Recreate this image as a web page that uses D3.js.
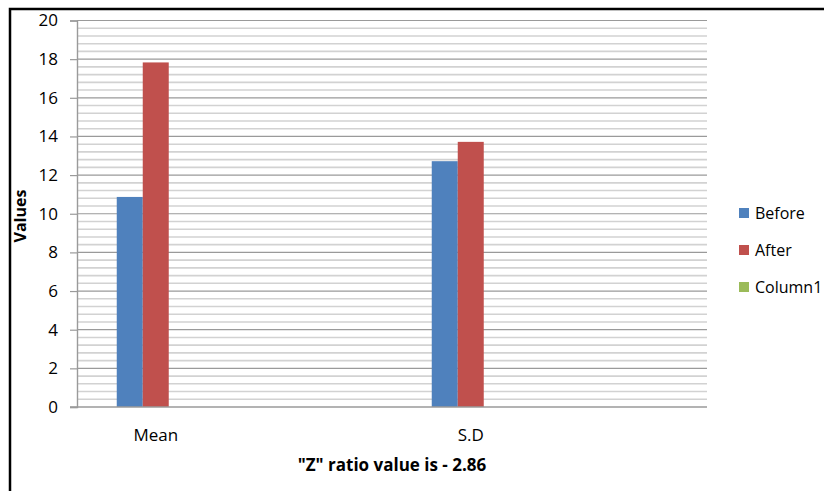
<!DOCTYPE html>
<html>
<head>
<meta charset="utf-8">
<script src="https://cdn.jsdelivr.net/npm/d3@7"></script>
<style>
  html, body { margin: 0; padding: 0; background: #fff; }
  svg { display: block; }
  text { font-family: "Open Sans", Lato, sans-serif; fill: #000; }
</style>
</head>
<body>
<svg id="chart" width="824" height="491"></svg>
<script>
// ---- data ----
const categories = ["Mean", "S.D"];
const seriesNames = ["Before", "After", "Column1"];
const beforeValues = [10.87, 12.72];
const afterValues = [17.83, 13.72];
const column1Values = [null, null];
const yTicks = [0, 2, 4, 6, 8, 10, 12, 14, 16, 18, 20];
const yAxisTitle = "Values";
const xAxisTitle = "\"Z\" ratio value is - 2.86";
const colors = ["#4F81BD", "#C0504D", "#9BBB59"];

const seriesValues = [beforeValues, afterValues, column1Values];
const FONT = "'Open Sans', Lato, sans-serif";

const svg = d3.select("#chart");

// outer frame
svg.append("rect")
  .attr("x", 10).attr("y", 9).attr("width", 1000).attr("height", 1000)
  .attr("fill", "none").attr("stroke", "#000").attr("stroke-width", 2.5);

const plot = { left: 77, right: 707, top: 20.5, bottom: 407 };

const y = d3.scaleLinear().domain([0, 20]).range([plot.bottom, plot.top]);
const x = d3.scalePoint().domain(categories).range([plot.left, plot.right]).padding(0.5).align(0.25);
const barW = 26;
const xs = d3.scaleBand().domain(seriesNames).range([-1.5 * barW, 1.5 * barW]);

// minor gridlines
const minorTicks = d3.range(0, 20.0001, 0.4).filter(v => Math.abs(v / 2 - Math.round(v / 2)) > 1e-6);
svg.append("g").selectAll("line").data(minorTicks).join("line")
  .attr("x1", plot.left).attr("x2", plot.right)
  .attr("y1", d => y(d)).attr("y2", d => y(d))
  .attr("stroke", "#d2d2d2").attr("stroke-width", 1.6);

// major gridlines
svg.append("g").selectAll("line").data(yTicks.filter(d => d > 0)).join("line")
  .attr("x1", plot.left).attr("x2", plot.right)
  .attr("y1", d => y(d)).attr("y2", d => y(d))
  .attr("stroke", "#9a9a9a").attr("stroke-width", 1.2);

// y axis
const yAxis = svg.append("g")
  .attr("transform", `translate(${plot.left},0)`)
  .call(d3.axisLeft(y).tickValues(yTicks).tickSize(7).tickPadding(12).tickFormat(d3.format("d")));
yAxis.select(".domain").attr("stroke", "#9a9a9a").attr("stroke-width", 1.4);
yAxis.selectAll(".tick line").attr("stroke", "#9a9a9a").attr("stroke-width", 1.2);
yAxis.selectAll(".tick text").attr("font-size", 17).attr("font-family", FONT).attr("fill", "#000");

// bars
seriesNames.forEach((s, si) => {
  svg.append("g").selectAll("rect")
    .data(categories.map((c, ci) => ({ c, v: seriesValues[si][ci] })).filter(d => d.v != null))
    .join("rect")
    .attr("x", d => x(d.c) + xs(s))
    .attr("width", xs.bandwidth())
    .attr("y", d => y(d.v))
    .attr("height", d => y(0) - y(d.v))
    .attr("fill", colors[si]);
});

// x axis line
svg.append("line")
  .attr("x1", plot.left - 7).attr("x2", plot.right)
  .attr("y1", y(0)).attr("y2", y(0))
  .attr("stroke", "#9a9a9a").attr("stroke-width", 1.6);

// x category labels
svg.append("g").selectAll("text").data(categories).join("text")
  .attr("x", d => x(d)).attr("y", 441)
  .attr("text-anchor", "middle").attr("font-size", 17)
  .text(d => d);

// axis titles
svg.append("text")
  .attr("transform", "translate(26,216) rotate(-90)")
  .attr("text-anchor", "middle").attr("font-size", 16).attr("font-weight", "bold")
  .text(yAxisTitle);

svg.append("text")
  .attr("x", 392).attr("y", 471)
  .attr("text-anchor", "middle").attr("font-size", 17).attr("font-weight", "bold")
  .text(xAxisTitle);

// legend
const legend = svg.append("g").selectAll("g").data(seriesNames).join("g")
  .attr("transform", (d, i) => `translate(739, ${213 + i * 37})`);
legend.append("rect").attr("x", 0).attr("y", -5).attr("width", 10).attr("height", 10)
  .attr("fill", (d, i) => colors[i]);
legend.append("text").attr("x", 16).attr("y", 6).attr("font-size", 16).text(d => d);
</script>
</body>
</html>
